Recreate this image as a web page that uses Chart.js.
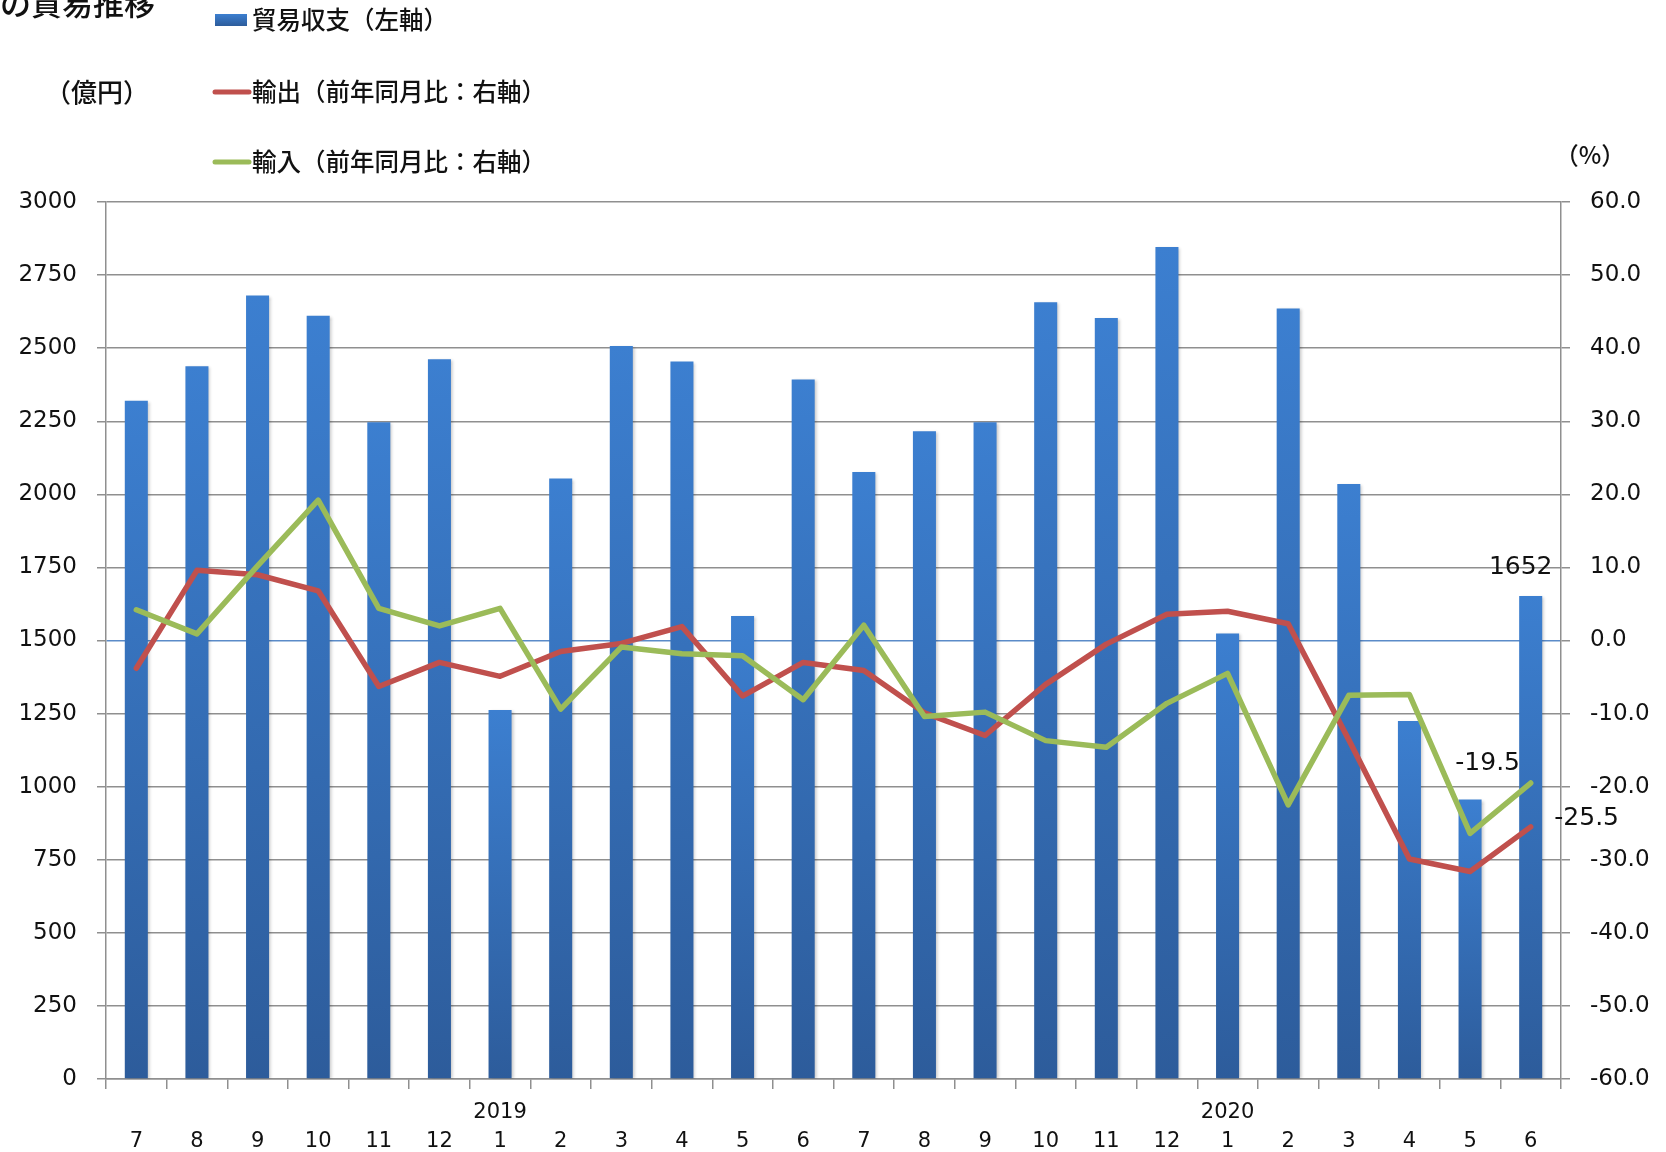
<!DOCTYPE html>
<html lang="ja">
<head>
<meta charset="utf-8">
<title>貿易推移</title>
<script src="https://cdn.jsdelivr.net/npm/chart.js@4/dist/chart.umd.min.js"></script>
<style>
  html, body { margin: 0; padding: 0; background: #fff; }
  #wrap { width: 1666px; height: 1152px; }
</style>
</head>
<body>
<div id="wrap"><canvas id="chart" width="1666" height="1152"></canvas></div>
<script>
// 2019/7 - 2020/6
const months = ['7','8','9','10','11','12','1','2','3','4','5','6','7','8','9','10','11','12','1','2','3','4','5','6'];
const years  = ['','','','','','','2019','','','','','','','','','','','','2020','','','','',''];

// 貿易収支（億円、左軸）
const balance = [2320, 2438, 2680, 2611, 2247, 2462, 1262, 2054, 2507, 2454, 1584, 2393,
                 2076, 2216, 2247, 2657, 2603, 2846, 1524, 2636, 2035, 1225, 956, 1652];
// 輸出 前年同月比（%、右軸）
const exportsYoY = [-3.8, 9.6, 9.0, 6.8, -6.3, -3.0, -4.9, -1.5, -0.4, 1.9, -7.6, -3.0,
                    -4.1, -9.9, -13.0, -6.0, -0.5, 3.6, 4.0, 2.3, -13.6, -29.9, -31.6, -25.5];
// 輸入 前年同月比（%、右軸）
const importsYoY = [4.2, 0.9, 10.2, 19.2, 4.4, 2.0, 4.4, -9.4, -0.9, -1.8, -2.1, -8.1,
                    2.1, -10.4, -9.8, -13.7, -14.6, -8.6, -4.5, -22.5, -7.5, -7.4, -26.4, -19.5];

// axis ranges: [min, max, step]
const leftRange  = [0, 3000, 250];
const rightRange = [-60, 60, 10];

const barTop = '#3c7fd0';
const barBottom = '#2d5c9b';
const redColor = '#c0504d';
const greenColor = '#9bbb59';
const gridColor = '#8f8f8f';
const zeroColor = '#5b8bc8';
const cjk = '"Noto Sans CJK JP", sans-serif';

Chart.defaults.font.family = '"DejaVu Sans", Verdana, sans-serif';
Chart.defaults.color = '#111';

function barGradient(ctx) {
  const chart = ctx.chart;
  const area = chart.chartArea;
  if (!area || ctx.type !== 'data') return barTop;
  const top = chart.scales.y.getPixelForValue(ctx.raw);
  const g = chart.ctx.createLinearGradient(0, top, 0, area.bottom);
  g.addColorStop(0, barTop);
  g.addColorStop(1, barBottom);
  return g;
}

// soft shadow under the bars, like the original
const barShadow = {
  id: 'barShadow',
  beforeDatasetDraw(chart, args) {
    if (args.index !== 0) return;
    const c = chart.ctx;
    c.save();
    c.shadowColor = 'rgba(0,0,0,0.22)';
    c.shadowBlur = 3;
    c.shadowOffsetX = 2;
    c.shadowOffsetY = 1;
  },
  afterDatasetDraw(chart, args) {
    if (args.index !== 0) return;
    chart.ctx.restore();
  }
};

// title, units, legend and the last-month labels
const decor = {
  id: 'decor',
  afterDraw(chart) {
    const c = chart.ctx;
    c.save();
    c.fillStyle = '#111';

    c.textBaseline = 'alphabetic';
    c.font = '500 31px ' + cjk;
    c.fillText('の貿易推移', 0, 15);

    c.textBaseline = 'middle';
    c.font = '500 26px ' + cjk;
    c.fillText('（億円）', 45, 92);
    c.textAlign = 'center';
    c.font = '500 24px ' + cjk;
    c.fillText('（%）', 1590, 155);

    // legend
    const rows = [20, 92, 162];
    c.textAlign = 'left';
    c.font = '500 24.5px ' + cjk;
    chart.data.datasets.forEach((ds, i) => {
      const y = rows[i];
      if (ds.type === 'bar') {
        const g = c.createLinearGradient(0, y - 6, 0, y + 6);
        g.addColorStop(0, barTop);
        g.addColorStop(1, barBottom);
        c.fillStyle = g;
        c.fillRect(215, y - 6, 32, 12);
      } else {
        c.strokeStyle = ds.borderColor;
        c.lineWidth = 5;
        c.lineCap = 'round';
        c.beginPath();
        c.moveTo(215, y);
        c.lineTo(249, y);
        c.stroke();
      }
      c.fillStyle = '#111';
      c.fillText(ds.label, 252, y);
    });

    // value labels for the latest month
    const last = months.length - 1;
    c.font = '25px "DejaVu Sans", Verdana, sans-serif';
    c.textAlign = 'center';
    const b = chart.getDatasetMeta(0).data[last];
    c.fillText(String(balance[last]), b.x - 10, b.y - 29);
    const r = chart.getDatasetMeta(1).data[last];
    c.fillText(exportsYoY[last].toFixed(1), r.x + 56, r.y - 8);
    const g = chart.getDatasetMeta(2).data[last];
    c.fillText(importsYoY[last].toFixed(1), g.x - 43, g.y - 20);

    c.restore();
  }
};

new Chart(document.getElementById('chart'), {
  type: 'bar',
  data: {
    labels: months.map((m, i) => [years[i], m]),
    datasets: [
      {
        type: 'bar',
        label: '貿易収支（左軸）',
        data: balance,
        yAxisID: 'y',
        backgroundColor: barGradient,
        barPercentage: 0.38,
        categoryPercentage: 1.0,
        order: 3
      },
      {
        type: 'line',
        label: '輸出（前年同月比：右軸）',
        data: exportsYoY,
        yAxisID: 'y2',
        borderColor: redColor,
        borderWidth: 5.5,
        borderJoinStyle: 'round',
        borderCapStyle: 'round',
        pointRadius: 0,
        tension: 0,
        order: 2
      },
      {
        type: 'line',
        label: '輸入（前年同月比：右軸）',
        data: importsYoY,
        yAxisID: 'y2',
        borderColor: greenColor,
        borderWidth: 5.5,
        borderJoinStyle: 'round',
        borderCapStyle: 'round',
        pointRadius: 0,
        tension: 0,
        order: 1
      }
    ]
  },
  options: {
    responsive: false,
    animation: false,
    layout: { padding: { top: 202, left: 0, right: 0, bottom: 0 } },
    plugins: {
      legend: { display: false },
      title: { display: false },
      tooltip: { enabled: false }
    },
    scales: {
      x: {
        ticks: { padding: 9, font: { size: 21, lineHeight: 1.38 }, maxRotation: 0, autoSkip: false },
        grid: { drawOnChartArea: false, offset: true, tickLength: 10, color: gridColor, lineWidth: 1.5 },
        border: { color: gridColor, width: 1.5 },
        afterFit(s) { s.height = 73; }
      },
      y: {
        position: 'left',
        min: leftRange[0],
        max: leftRange[1],
        ticks: { stepSize: leftRange[2], padding: 20, font: { size: 23 }, callback: v => String(v) },
        grid: {
          color: ctx => (ctx.tick && ctx.tick.value === 1500 ? zeroColor : gridColor),
          tickColor: gridColor,
          lineWidth: 1.5,
          tickLength: 9
        },
        border: { color: gridColor, width: 1.5 },
        afterFit(s) { s.width = 106; }
      },
      y2: {
        position: 'right',
        min: rightRange[0],
        max: rightRange[1],
        ticks: { stepSize: rightRange[2], padding: 20, font: { size: 23 }, callback: v => v.toFixed(1) },
        grid: { drawOnChartArea: false, tickLength: 9, color: gridColor, lineWidth: 1.5 },
        border: { color: gridColor, width: 1.5 },
        afterFit(s) { s.width = 105; }
      }
    }
  },
  plugins: [barShadow, decor]
});
</script>
</body>
</html>
